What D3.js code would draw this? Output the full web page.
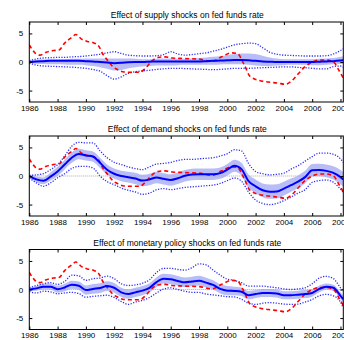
<!DOCTYPE html>
<html>
<head>
<meta charset="utf-8">
<script src="https://cdn.jsdelivr.net/npm/d3@7"></script>
<style>
	body { margin: 0; background: #fff; }
	svg text { font-family: 'Liberation Sans', Arial, Helvetica, sans-serif; font-size: 8px; fill: #000; }
	svg text.title { font-size: 8.5px; }
</style>
</head>
<body>
<div id="chart"></div>
<script>
/* global d3 */

// half-year grid the model bands were read on
const years = [1986, 1986.5, 1987, 1987.5, 1988, 1988.5, 1989, 1989.5, 1990, 1990.5,
	1991, 1991.5, 1992, 1992.5, 1993, 1993.5, 1994, 1994.5, 1995, 1995.5,
	1996, 1996.5, 1997, 1997.5, 1998, 1998.5, 1999, 1999.5, 2000, 2000.5,
	2001, 2001.5, 2002, 2002.5, 2003, 2003.5, 2004, 2004.5, 2005, 2005.5,
	2006, 2006.5, 2007, 2007.5, 2008, 2008.2];

const xTicks = [1986, 1988, 1990, 1992, 1994, 1996, 1998, 2000, 2002, 2004, 2006, 2008];
const yTicks = [-5, 0, 5];

const titles = [
	'Effect of supply shocks on fed funds rate',
	'Effect of demand shocks on fed funds rate',
	'Effect of monetary policy shocks on fed funds rate',
];

// red dashed: actual fed funds rate (same in every panel)
const fedYears = [1986.0, 1986.4, 1986.75, 1987.2, 1987.7, 1988.1, 1988.5, 1989.0, 1989.3, 1989.7,
	1990.1, 1990.5, 1990.9, 1991.2, 1991.6, 1991.9, 1992.3, 1992.6, 1993.2, 1993.8,
	1994.2, 1994.6, 1995.1, 1995.6, 1996.1, 1997.0, 1998.0, 1998.9, 1999.6, 2000.3,
	2000.7, 2001.2, 2001.6, 2002.2, 2002.9, 2003.6, 2004.1, 2004.6, 2005.0, 2005.5,
	2006.0, 2006.5, 2007.0, 2007.5, 2007.9, 2008.2];
const fedFunds = [3.0, 1.6, 1.2, 1.7, 2.0, 2.1, 3.3, 4.3, 4.8, 4.0,
	3.6, 3.4, 2.8, 1.4, 0.1, -0.8, -1.4, -1.7, -1.8, -1.8,
	-1.1, 0.0, 0.8, 0.9, 0.7, 0.6, 0.5, 0.1, 0.9, 1.6,
	1.5, -0.5, -2.5, -3.2, -3.5, -3.7, -3.9, -3.2, -2.1, -0.8,
	0.0, 0.35, 0.35, 0.0, -1.5, -2.8];

// supply
const supplyMedian = [0.0, 0.1, 0.15, 0.2, 0.2, 0.2, 0.2, 0.2, 0.15, 0.1,
	0.0, -0.1, -0.2, -0.15, -0.05, 0.0, 0.0, 0.05, 0.1, 0.1,
	0.1, 0.1, 0.1, 0.1, 0.1, 0.15, 0.2, 0.25, 0.3, 0.35,
	0.35, 0.3, 0.2, 0.1, 0.05, 0.0, 0.0, 0.0, 0.0, 0.0,
	0.0, 0.05, 0.1, 0.15, 0.25, 0.3];
const supplyBandHi = [0.2, 0.4, 0.45, 0.5, 0.5, 0.5, 0.55, 0.55, 0.6, 0.6,
	0.6, 0.6, 0.6, 0.6, 0.6, 0.55, 0.5, 0.5, 0.55, 0.6,
	0.6, 0.55, 0.55, 0.6, 0.7, 0.8, 0.9, 1.0, 1.2, 1.4,
	1.5, 1.5, 1.4, 1.1, 0.8, 0.6, 0.5, 0.5, 0.5, 0.5,
	0.5, 0.55, 0.6, 0.7, 0.9, 1.0];
const supplyBandLo = [-0.2, -0.3, -0.35, -0.4, -0.4, -0.45, -0.5, -0.5, -0.55, -0.7,
	-0.9, -1.2, -1.5, -1.4, -1.1, -0.9, -0.8, -0.7, -0.6, -0.6,
	-0.6, -0.55, -0.5, -0.5, -0.5, -0.5, -0.5, -0.45, -0.4, -0.4,
	-0.4, -0.5, -0.6, -0.7, -0.7, -0.6, -0.55, -0.5, -0.5, -0.5,
	-0.55, -0.55, -0.5, -0.4, -0.35, -0.35];
const supplyHi = [0.2, 0.55, 0.7, 0.75, 0.8, 0.8, 0.9, 0.95, 1.05, 1.2,
	1.35, 1.6, 1.8, 1.5, 1.2, 1.1, 1.05, 1.05, 1.1, 1.3,
	1.8, 1.4, 1.2, 1.3, 1.45, 1.6, 1.9, 2.2, 2.6, 3.0,
	3.2, 3.3, 3.2, 2.5, 1.7, 1.35, 1.2, 1.15, 1.1, 1.05,
	1.05, 1.05, 1.1, 1.4, 2.0, 2.3];
const supplyLo = [-0.2, -0.55, -0.7, -0.75, -0.8, -0.85, -0.9, -1.0, -1.1, -1.3,
	-1.6, -2.4, -3.0, -2.6, -2.0, -1.7, -1.55, -1.45, -1.3, -1.2,
	-1.1, -1.1, -1.15, -1.2, -1.25, -1.3, -1.35, -1.3, -1.2, -1.1,
	-1.1, -1.1, -1.05, -1.0, -0.95, -0.9, -0.85, -0.85, -0.95, -1.0,
	-1.1, -1.2, -1.2, -0.8, -0.7, -0.9];

// demand
const demandMedian = [0.0, -0.6, -0.85, -0.1, 0.8, 2.0, 3.2, 3.85, 3.6, 3.4,
	2.3, 1.1, 0.4, 0.0, -0.2, -0.45, -0.8, -0.6, -0.25, -0.5,
	-0.7, -0.4, 0.05, 0.25, 0.3, 0.3, 0.3, 0.5, 1.1, 1.8,
	1.2, -0.9, -1.8, -2.5, -2.75, -2.7, -2.2, -1.6, -1.0, -0.2,
	1.0, 1.05, 0.9, 0.55, -0.2, -0.6];
const demandBandHi = [0.3, -0.1, -0.25, 0.6, 1.6, 2.85, 4.1, 4.75, 4.5, 4.3,
	3.2, 2.0, 1.3, 0.9, 0.75, 0.55, 0.2, 0.4, 0.75, 0.5,
	0.3, 0.6, 1.05, 1.25, 1.3, 1.3, 1.3, 1.5, 2.1, 2.85,
	2.3, 0.25, -0.6, -1.3, -1.5, -1.45, -1.0, -0.45, 0.1, 0.9,
	2.1, 2.15, 2.0, 1.7, 1.05, 0.7];
const demandBandLo = [-0.3, -1.1, -1.45, -0.8, 0.0, 1.15, 2.3, 2.95, 2.7, 2.5,
	1.4, 0.2, -0.5, -0.9, -1.15, -1.45, -1.8, -1.6, -1.25, -1.5,
	-1.7, -1.4, -0.95, -0.75, -0.7, -0.7, -0.7, -0.5, 0.1, 0.75,
	0.1, -2.05, -3.0, -3.7, -4.0, -3.95, -3.4, -2.75, -2.1, -1.3,
	-0.1, -0.05, -0.2, -0.6, -1.45, -1.9];
const demandHi = [0.1, 0.2, 0.4, 1.1, 2.0, 3.5, 5.2, 5.9, 5.8, 5.8,
	4.4, 3.2, 2.4, 2.0, 1.6, 1.3, 1.1, 1.6, 2.1, 2.2,
	2.4, 2.7, 2.9, 2.9, 3.0, 3.1, 3.2, 3.5, 3.9, 4.6,
	4.4, 2.2, 0.8, 0.4, 0.2, 0.3, 0.5, 1.2, 1.8, 2.6,
	3.4, 4.0, 4.0, 3.8, 3.0, 2.4];
const demandLo = [-0.35, -1.2, -1.8, -1.2, -0.3, 0.4, 1.3, 1.7, 1.7, 1.4,
	0.0, -1.0, -1.5, -2.1, -2.5, -2.8, -3.2, -3.0, -2.4, -2.2,
	-2.4, -2.2, -2.0, -1.9, -1.8, -1.7, -1.6, -1.3, -0.8, -0.35,
	-0.9, -2.8, -4.2, -4.8, -5.0, -4.8, -4.3, -3.7, -3.0, -2.4,
	-1.1, -0.8, -0.7, -1.1, -2.3, -2.9];

// monetary policy
const monetaryMedian = [0.0, 0.2, 0.5, 0.5, 0.05, 0.35, 0.85, 0.65, -0.1, 0.1,
	0.25, 0.6, 0.3, -0.5, -0.8, -0.5, -0.2, 0.3, 1.3, 1.9,
	1.8, 1.5, 1.25, 1.4, 1.55, 1.2, 0.8, 0.1, -0.2, -0.25,
	-0.4, -1.0, -0.8, -0.6, -0.6, -0.7, -1.0, -1.0, -0.9, -0.8,
	-0.6, 0.1, 0.5, 0.3, -1.1, -1.7];
const monetaryBandHi = [0.3, 0.6, 1.0, 1.05, 0.65, 1.0, 1.55, 1.4, 0.7, 0.95,
	1.1, 1.45, 1.15, 0.3, 0.0, 0.3, 0.6, 1.1, 2.15, 2.75,
	2.65, 2.35, 2.1, 2.25, 2.4, 2.05, 1.6, 0.9, 0.6, 0.5,
	0.35, -0.25, -0.1, 0.1, 0.1, 0.0, -0.3, -0.3, -0.2, -0.1,
	0.05, 0.7, 1.05, 0.85, -0.5, -1.05];
const monetaryBandLo = [-0.3, -0.2, 0.0, -0.05, -0.55, -0.3, 0.15, -0.1, -0.9, -0.75,
	-0.6, -0.25, -0.55, -1.3, -1.6, -1.3, -1.0, -0.5, 0.45, 1.05,
	0.95, 0.65, 0.4, 0.55, 0.7, 0.35, 0.0, -0.7, -1.0, -1.0,
	-1.15, -1.75, -1.5, -1.3, -1.3, -1.4, -1.7, -1.7, -1.6, -1.5,
	-1.25, -0.5, -0.05, -0.25, -1.7, -2.35];
const monetaryHi = [0.3, 0.7, 1.0, 1.2, 0.9, 1.4, 2.5, 2.4, 1.6, 1.9,
	2.0, 2.35, 1.9, 1.0, 0.7, 0.8, 1.1, 1.7, 3.0, 3.7,
	3.7, 3.5, 3.4, 3.8, 4.5, 4.3, 3.4, 2.5, 1.8, 1.6,
	1.2, 0.6, 0.6, 0.6, 0.45, 0.3, 0.1, 0.0, 0.1, 0.3,
	1.0, 2.0, 2.3, 1.9, 0.3, -0.3];
const monetaryLo = [-0.35, -0.6, -0.3, -0.4, -0.75, -0.6, -0.5, -0.7, -1.35, -1.2,
	-1.1, -1.0, -1.4, -2.1, -2.6, -2.2, -1.9, -1.4, -0.6, 0.1,
	0.3, 0.0, -0.3, -0.5, -0.5, -0.8, -0.95, -1.1, -1.25, -1.3,
	-1.7, -2.4, -2.6, -2.4, -2.3, -2.4, -2.55, -2.6, -2.55, -2.2,
	-1.75, -1.1, -0.85, -1.1, -2.2, -3.2];

const panels = [
	{title: titles[0], median: supplyMedian, bandHi: supplyBandHi, bandLo: supplyBandLo, hi: supplyHi, lo: supplyLo},
	{title: titles[1], median: demandMedian, bandHi: demandBandHi, bandLo: demandBandLo, hi: demandHi, lo: demandLo},
	{title: titles[2], median: monetaryMedian, bandHi: monetaryBandHi, bandLo: monetaryBandLo, hi: monetaryHi, lo: monetaryLo},
];

const width = 344;
const height = 340;
const panelTops = [22, 136, 249.5];
const panelHeight = 80;

const svg = d3.select('#chart').append('svg')
	.attr('width', width)
	.attr('height', height);

svg.append('rect')
	.attr('width', width)
	.attr('height', height)
	.attr('fill', '#fff');

const x = d3.scaleLinear()
	.domain([1986, 2008.2])
	.range([29.3, 343.3]);

const y = d3.scaleLinear()
	.domain([-7, 7])
	.range([panelHeight, 0]);

function drawPanel(panel, i) {
	const g = svg.append('g')
		.attr('transform', `translate(0,${panelTops[i]})`);

	const clipId = `clip-${i}`;
	g.append('clipPath')
		.attr('id', clipId)
		.append('rect')
		.attr('x', x.range()[0])
		.attr('y', 0)
		.attr('width', x.range()[1] - x.range()[0])
		.attr('height', panelHeight);

	const plot = g.append('g').attr('clip-path', `url(#${clipId})`);

	const band = d3.area()
		.x((d, j) => x(years[j]))
		.y0((d, j) => y(panel.bandLo[j]))
		.y1((d, j) => y(panel.bandHi[j]))
		.curve(d3.curveMonotoneX);

	plot.append('path')
		.datum(years)
		.attr('d', band)
		.attr('fill', '#b9bdf7');

	plot.append('line')
		.attr('x1', x.range()[0])
		.attr('x2', x.range()[1])
		.attr('y1', y(0))
		.attr('y2', y(0))
		.attr('stroke', '#aaa')
		.attr('stroke-width', 1)
		.attr('stroke-dasharray', '1,1');

	const line = d3.line()
		.x(d => x(d[0]))
		.y(d => y(d[1]))
		.curve(d3.curveMonotoneX);

	[panel.hi, panel.lo].forEach(vals => {
		plot.append('path')
			.datum(d3.zip(years, vals))
			.attr('d', line)
			.attr('fill', 'none')
			.attr('stroke', '#2a2aff')
			.attr('stroke-width', 1.3)
			.attr('stroke-dasharray', '1.2,1.5');
	});

	plot.append('path')
		.datum(d3.zip(fedYears, fedFunds))
		.attr('d', line)
		.attr('fill', 'none')
		.attr('stroke', '#ff0000')
		.attr('stroke-width', 1.6)
		.attr('stroke-dasharray', '4,3');

	plot.append('path')
		.datum(d3.zip(years, panel.median))
		.attr('d', line)
		.attr('fill', 'none')
		.attr('stroke', '#0000ff')
		.attr('stroke-width', 2);

	// box with inward ticks on all four sides
	g.append('rect')
		.attr('x', x.range()[0])
		.attr('y', 0)
		.attr('width', x.range()[1] - x.range()[0])
		.attr('height', panelHeight)
		.attr('fill', 'none')
		.attr('stroke', '#000')
		.attr('stroke-width', 1);

	const bottomAxis = g.append('g')
		.attr('transform', `translate(0,${panelHeight})`)
		.call(d3.axisBottom(x).tickValues(xTicks).tickSize(-3).tickPadding(3).tickFormat(d3.format('d')));

	const topAxis = g.append('g')
		.call(d3.axisTop(x).tickValues(xTicks).tickSize(-3).tickFormat(''));

	const leftAxis = g.append('g')
		.attr('transform', `translate(${x.range()[0]},0)`)
		.call(d3.axisLeft(y).tickValues(yTicks).tickSize(-3).tickPadding(6).tickFormat(d => String(d)));

	const rightAxis = g.append('g')
		.attr('transform', `translate(${x.range()[1]},0)`)
		.call(d3.axisRight(y).tickValues(yTicks).tickSize(-3).tickFormat(''));

	[bottomAxis, topAxis, leftAxis, rightAxis].forEach(ax => {
		ax.select('.domain').remove();
		ax.attr('font-family', null).attr('font-size', null);
	});

	g.append('text')
		.attr('class', 'title')
		.attr('x', (x.range()[0] + x.range()[1]) / 2 + 1)
		.attr('y', -4)
		.attr('text-anchor', 'middle')
		.text(panel.title);
}

panels.forEach(drawPanel);
</script>
</body>
</html>
